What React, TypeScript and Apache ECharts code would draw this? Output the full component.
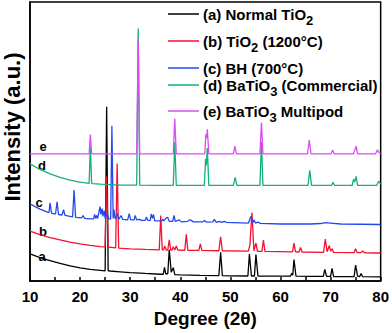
import React, { useEffect, useRef } from "react";
import * as echarts from "echarts";

const FONT = "'Liberation Sans', Arial, Helvetica, sans-serif";

const xTicks = { min: 10, max: 80, interval: 10 };
const yRange = { min: 0, max: 285 };

const seriesNames = [
  "(a) Normal TiO2",
  "(b) TiO2 (1200°C)",
  "(c) BH (700°C)",
  "(d) BaTiO3 (Commercial)",
  "(e) BaTiO3 Multipod",
];
const legendRich = [
  "(a) Normal TiO{s|2}",
  "(b) TiO{s|2} (1200°C)",
  "(c) BH (700°C)",
  "(d) BaTiO{s|3} (Commercial)",
  "(e) BaTiO{s|3} Multipod",
];
const curveTags = ["a", "b", "c", "d", "e"];
const colors = ["#000000", "#f5102f", "#2448f0", "#12b07a", "#d94ef0"];

const seriesA: [number, number][] = [
  [10, 27.7], [12, 24], [14, 21], [16, 18], [18, 15.5], [20, 13.5], [22, 12], [24, 11],
  [25.0, 10.5], [25.3, 178], [25.6, 10.5], [26, 10.3], [28, 9.5], [30, 8.7], [33, 7.8], [36, 7],
  [36.6, 7], [36.85, 14], [37.1, 7.5], [37.5, 7.5], [37.8, 32], [38.2, 9], [38.6, 13.7], [38.9, 6.6],
  [40, 6.3], [44, 5.8], [47.7, 5.5], [48.05, 29.3], [48.4, 5.5], [50, 5.3], [53.5, 5.2],
  [53.8, 27.7], [54.2, 5.2], [54.8, 5.2], [55.1, 27], [55.5, 5.2], [58, 5], [62, 5], [62.25, 8],
  [62.45, 6], [62.7, 22], [63.1, 5], [66, 4.8], [68.55, 4.8], [68.85, 12], [69.2, 4.8], [70.0, 4.8],
  [70.3, 13], [70.6, 4.7], [74.7, 4.6], [75.0, 16.3], [75.4, 5], [75.8, 4.6], [76.1, 7.7],
  [76.4, 4.5], [80, 4.4],
];

const seriesB: [number, number][] = [
  [10, 51], [12, 47.5], [14, 44.5], [16, 42], [18, 39.8], [20, 38], [22, 36.5], [24, 35.3],
  [25.0, 35], [25.3, 107], [25.6, 34.7], [27.1, 34], [27.4, 120], [27.7, 33.7], [30, 33],
  [33, 32.3], [35.8, 31.8], [36.1, 67], [36.4, 31.8], [36.65, 31.8], [36.9, 36], [37.2, 31.7],
  [37.5, 31.7], [37.8, 42], [38.1, 31.7], [38.35, 31.7], [38.6, 35], [38.9, 31.7], [39.2, 36],
  [39.5, 31.6], [40.9, 31.5], [41.2, 47.7], [41.5, 31.5], [43.7, 31.3], [44.0, 38], [44.3, 31.3],
  [47.7, 31], [48.05, 45.3], [48.4, 31], [53.6, 30.6], [53.9, 37], [54.3, 70], [54.7, 31],
  [55.1, 38.7], [55.4, 30.5], [56.3, 30.4], [56.6, 42], [56.9, 30.4], [62.4, 29.8], [62.7, 38.7],
  [63.0, 29.8], [63.7, 29.7], [64.0, 34.3], [64.3, 29.7], [68.6, 29.4], [68.95, 43], [69.3, 30],
  [69.75, 36.3], [70.0, 30.5], [70.3, 33], [70.6, 29.3], [74.7, 29], [75.0, 33], [75.3, 29],
  [76.1, 29], [76.4, 30.8], [76.8, 28.9], [80, 28.7],
];

const seriesC: [number, number][] = [
  [10, 79], [11, 76], [12, 73.5], [13, 71.5], [13.8, 70], [14.0, 80], [14.3, 69.5], [15.1, 68.5],
  [15.4, 81], [15.7, 68], [16.4, 67.5], [16.7, 73], [17.0, 67], [18.0, 66], [18.5, 65.5],
  [18.8, 93], [19.1, 65], [20.3, 64.5], [20.6, 67], [20.9, 64], [22.0, 63.5], [22.7, 63.5],
  [22.9, 68], [23.1, 64], [23.3, 67], [23.5, 64], [23.85, 73], [24.0, 76], [24.15, 68], [24.4, 74],
  [24.55, 66], [24.8, 72], [25.0, 64], [25.4, 69], [25.7, 63.5], [26.1, 63.5], [26.35, 158.7],
  [26.6, 64], [26.75, 73], [27.0, 63.5], [27.5, 69], [27.7, 63], [28.2, 67], [28.5, 63],
  [29.5, 62.5], [29.8, 69], [30.1, 62.5], [30.8, 62.5], [31.0, 67], [31.3, 62.5], [31.9, 63],
  [32.2, 62], [33.0, 62], [33.25, 65.5], [33.5, 62], [34.0, 62], [34.2, 68.5], [34.45, 64],
  [34.65, 68], [34.9, 61.5], [36.3, 61.5], [36.5, 63], [36.7, 61.5], [37.2, 64.5], [37.5, 65],
  [37.8, 61], [38.5, 61], [38.75, 67], [39.0, 61], [39.8, 62.5], [40.2, 60.5], [41.5, 61],
  [41.8, 62.5], [42.2, 62], [42.6, 60.5], [44.5, 60.5], [44.8, 62], [45.2, 60.3], [46.5, 60.5],
  [46.8, 63], [47.2, 60], [47.8, 61], [48.3, 60], [48.8, 61], [49.2, 60], [53.6, 59.3],
  [54.1, 66], [54.5, 59.8], [54.7, 62.5], [55.0, 59.3], [55.5, 60.3], [56.0, 59], [60, 58.3],
  [66, 58.3], [68, 58.8], [69, 59.8], [70, 59.3], [72, 58.3], [80, 57.8],
];

const seriesD: [number, number][] = [
  [10, 119.7], [12, 114], [14, 109.5], [16, 106], [18, 103], [20, 101], [21.8, 99.8],
  [22.05, 137], [22.3, 100], [22.5, 99.5], [24, 99], [26, 98.5], [28, 98], [31.3, 98],
  [31.6, 258], [31.9, 98], [35, 97.8], [38.6, 97.8], [38.9, 142], [39.2, 97.8], [44.8, 97.7],
  [45.05, 125], [45.2, 118], [45.4, 136], [45.7, 97.7], [50.6, 97.7], [50.95, 106], [51.3, 97.7],
  [55.9, 97.7], [56.2, 142], [56.5, 97.7], [65.5, 97.7], [65.85, 113], [66.2, 97.7], [70.2, 97.7],
  [70.5, 101], [70.8, 97.7], [74.3, 97.7], [74.6, 104], [74.8, 101], [75.1, 107], [75.4, 97.7],
  [79.2, 97.7], [79.6, 102], [80, 99],
];

const seriesE: [number, number][] = [
  [10, 130], [21.8, 130], [22.05, 149.7], [22.3, 130], [31.3, 130], [31.6, 247], [31.9, 130],
  [38.6, 130], [38.9, 166], [39.2, 130], [44.9, 130], [45.1, 150], [45.25, 146], [45.4, 155],
  [45.7, 130], [50.6, 130], [50.9, 137.7], [51.2, 130], [55.9, 130], [56.2, 162], [56.5, 130],
  [65.4, 130], [65.75, 144], [66.1, 130], [70.1, 130], [70.4, 134], [70.7, 130], [74.6, 130],
  [74.85, 134], [75.1, 137.7], [75.4, 130], [79.0, 130], [79.35, 134], [79.7, 131], [80, 130],
];

const allSeries = [seriesA, seriesB, seriesC, seriesD, seriesE];

const tagPos: [number, number][] = [
  [42, 256], [43, 231], [39, 202], [42, 165], [43, 146],
];
const legendRowsY = [14, 41, 68, 85, 111];

export default function App() {
  const ref = useRef<HTMLDivElement>(null);
  useEffect(() => {
    if (!ref.current) return;
    const chart = echarts.init(ref.current, null, { renderer: "svg" });
    const graphics: any[] = [];
    graphics.push({
      type: "text",
      x: 12,
      y: 127,
      rotation: Math.PI / 2,
      style: {
        text: "Intensity (a.u.)",
        font: `bold 22px ${FONT}`,
        fill: "#000",
        align: "center",
        verticalAlign: "middle",
      },
    });
    curveTags.forEach((t, i) => {
      graphics.push({
        type: "text",
        x: tagPos[i][0],
        y: tagPos[i][1],
        style: {
          text: t,
          font: `bold 13px ${FONT}`,
          fill: "#000",
          align: "center",
          verticalAlign: "middle",
        },
      });
    });
    legendRich.forEach((t, i) => {
      const y = legendRowsY[i];
      graphics.push({
        type: "line",
        shape: { x1: 168, y1: y, x2: 199, y2: y },
        style: { stroke: colors[i], lineWidth: 1.5 },
      });
      graphics.push({
        type: "text",
        x: 203,
        y,
        style: {
          text: t,
          fontSize: 15,
          fontWeight: "bold",
          fontFamily: FONT,
          fill: "#000",
          align: "left",
          verticalAlign: "middle",
          rich: {
            s: {
              fontSize: 13,
              fontWeight: "bold",
              fontFamily: FONT,
              fill: "#000",
              padding: [12, 0, 0, 0],
            },
          },
        },
      });
    });

    chart.setOption({
      animation: false,
      backgroundColor: "#fff",
      grid: {
        left: 30,
        right: 10,
        top: 2,
        bottom: 46,
        show: true,
        borderColor: "#000",
        borderWidth: 1.5,
        backgroundColor: "transparent",
      },
      xAxis: {
        type: "value",
        min: xTicks.min,
        max: xTicks.max,
        interval: xTicks.interval,
        name: "Degree (2θ)",
        nameLocation: "middle",
        nameGap: 22,
        nameTextStyle: { fontSize: 19, fontWeight: "bold", fontFamily: FONT, color: "#000" },
        axisLine: { show: true, lineStyle: { color: "#000", width: 1.5 } },
        axisTick: { show: true, inside: true, length: 4, lineStyle: { color: "#000", width: 1.5 } },
        minorTick: { show: true, splitNumber: 2, length: 4, lineStyle: { color: "#000", width: 1.5 } },
        axisLabel: { fontSize: 15, fontWeight: "bold", fontFamily: FONT, color: "#000", margin: 8 },
        splitLine: { show: false },
      },
      yAxis: {
        type: "value",
        min: yRange.min,
        max: yRange.max,
        axisLine: { show: true, lineStyle: { color: "#000", width: 1.5 } },
        axisTick: { show: false },
        axisLabel: { show: false },
        splitLine: { show: false },
      },
      series: allSeries.map((d, i) => ({
        name: seriesNames[i],
        type: "line",
        data: d,
        showSymbol: false,
        symbol: "none",
        lineStyle: { color: colors[i], width: 1.3 },
        itemStyle: { color: colors[i] },
        z: 2 + i,
      })),
      graphic: graphics,
    });
    return () => chart.dispose();
  }, []);
  return (
    <div
      ref={ref}
      style={{ position: "absolute", left: 0, top: 0, width: 392, height: 333, background: "#fff" }}
    />
  );
}
